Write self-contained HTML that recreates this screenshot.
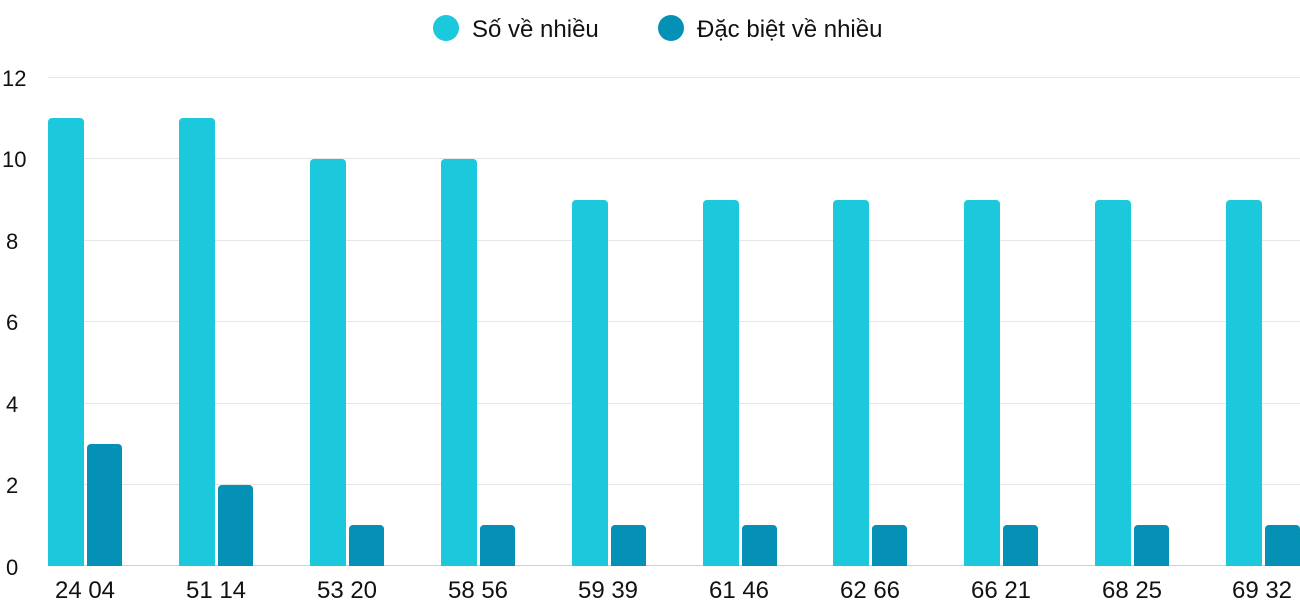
<!DOCTYPE html>
<html><head><meta charset="utf-8"><style>
html,body{margin:0;padding:0;background:#fff;}
svg{display:block;font-family:"Liberation Sans","DejaVu Sans",sans-serif;}
</style></head><body>
<svg width="1300" height="600" viewBox="0 0 1300 600" xmlns="http://www.w3.org/2000/svg">
<g stroke="#e6e6e6" stroke-width="1">
<line x1="48" x2="1300" y1="77.5" y2="77.5"/>
<line x1="48" x2="1300" y1="158.5" y2="158.5"/>
<line x1="48" x2="1300" y1="240.5" y2="240.5"/>
<line x1="48" x2="1300" y1="321.5" y2="321.5"/>
<line x1="48" x2="1300" y1="403.5" y2="403.5"/>
<line x1="48" x2="1300" y1="484.5" y2="484.5"/>
</g>
<g font-size="22" fill="#111" text-anchor="start">
<text x="2" y="86">12</text>
<text x="2" y="167">10</text>
<text x="6" y="249">8</text>
<text x="6" y="330">6</text>
<text x="6" y="412">4</text>
<text x="6" y="493">2</text>
<text x="6" y="575">0</text>
</g>
<g id="bars"></g>
<line x1="48" x2="1300" y1="565.5" y2="565.5" stroke="#d0d0d0" stroke-width="1"/>
<g font-size="24" fill="#111">
<circle cx="446" cy="28" r="13" fill="#1bc8dc"/>
<text x="472" y="37">Số về nhiều</text>
<circle cx="671" cy="28" r="13" fill="#0590b5"/>
<text x="697" y="37">Đặc biệt về nhiều</text>
</g>
<g font-size="24" fill="#111" text-anchor="middle">
<text x="85" y="598">24 04</text>
<text x="216" y="598">51 14</text>
<text x="347" y="598">53 20</text>
<text x="478" y="598">58 56</text>
<text x="608" y="598">59 39</text>
<text x="739" y="598">61 46</text>
<text x="870" y="598">62 66</text>
<text x="1001" y="598">66 21</text>
<text x="1132" y="598">68 25</text>
<text x="1262" y="598">69 32</text>
</g>
<g>
<path d="M48 566V122a4 4 0 0 1 4-4h28a4 4 0 0 1 4 4V566Z" fill="#1bc8dc"/>
<path d="M87 566V448a4 4 0 0 1 4-4h27a4 4 0 0 1 4 4V566Z" fill="#0590b5"/>
<path d="M179 566V122a4 4 0 0 1 4-4h28a4 4 0 0 1 4 4V566Z" fill="#1bc8dc"/>
<path d="M218 566V489a4 4 0 0 1 4-4h27a4 4 0 0 1 4 4V566Z" fill="#0590b5"/>
<path d="M310 566V163a4 4 0 0 1 4-4h28a4 4 0 0 1 4 4V566Z" fill="#1bc8dc"/>
<path d="M349 566V529a4 4 0 0 1 4-4h27a4 4 0 0 1 4 4V566Z" fill="#0590b5"/>
<path d="M441 566V163a4 4 0 0 1 4-4h28a4 4 0 0 1 4 4V566Z" fill="#1bc8dc"/>
<path d="M480 566V529a4 4 0 0 1 4-4h27a4 4 0 0 1 4 4V566Z" fill="#0590b5"/>
<path d="M572 566V204a4 4 0 0 1 4-4h28a4 4 0 0 1 4 4V566Z" fill="#1bc8dc"/>
<path d="M611 566V529a4 4 0 0 1 4-4h27a4 4 0 0 1 4 4V566Z" fill="#0590b5"/>
<path d="M703 566V204a4 4 0 0 1 4-4h28a4 4 0 0 1 4 4V566Z" fill="#1bc8dc"/>
<path d="M742 566V529a4 4 0 0 1 4-4h27a4 4 0 0 1 4 4V566Z" fill="#0590b5"/>
<path d="M833 566V204a4 4 0 0 1 4-4h28a4 4 0 0 1 4 4V566Z" fill="#1bc8dc"/>
<path d="M872 566V529a4 4 0 0 1 4-4h27a4 4 0 0 1 4 4V566Z" fill="#0590b5"/>
<path d="M964 566V204a4 4 0 0 1 4-4h28a4 4 0 0 1 4 4V566Z" fill="#1bc8dc"/>
<path d="M1003 566V529a4 4 0 0 1 4-4h27a4 4 0 0 1 4 4V566Z" fill="#0590b5"/>
<path d="M1095 566V204a4 4 0 0 1 4-4h28a4 4 0 0 1 4 4V566Z" fill="#1bc8dc"/>
<path d="M1134 566V529a4 4 0 0 1 4-4h27a4 4 0 0 1 4 4V566Z" fill="#0590b5"/>
<path d="M1226 566V204a4 4 0 0 1 4-4h28a4 4 0 0 1 4 4V566Z" fill="#1bc8dc"/>
<path d="M1265 566V529a4 4 0 0 1 4-4h27a4 4 0 0 1 4 4V566Z" fill="#0590b5"/>
</g>
</svg>
</body></html>
